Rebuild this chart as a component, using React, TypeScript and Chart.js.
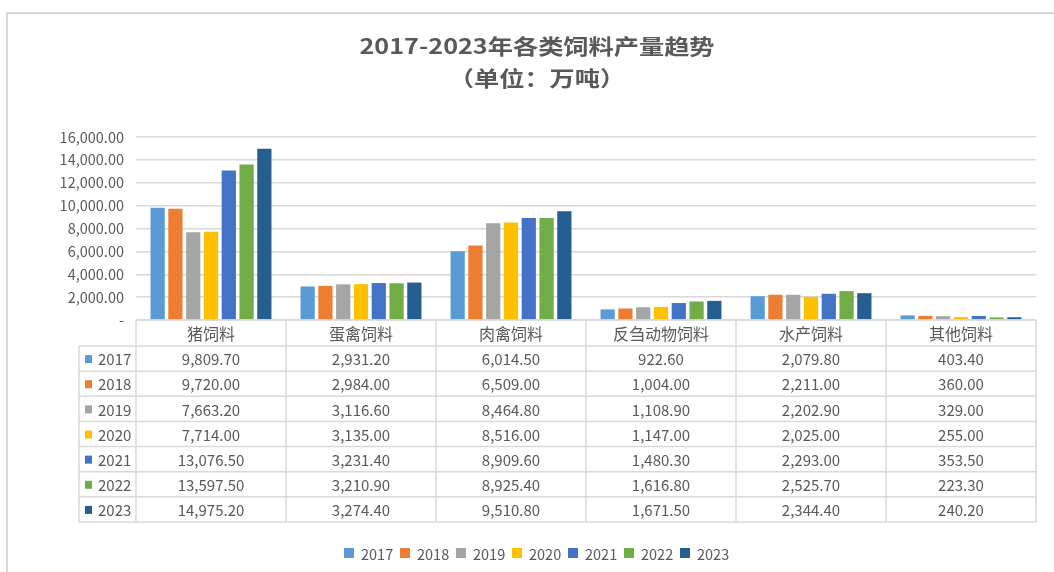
import React, { useEffect, useRef } from "react";
import { Chart, registerables } from "chart.js";

Chart.register(...registerables);

const categories = ["猪饲料", "蛋禽饲料", "肉禽饲料", "反刍动物饲料", "水产饲料", "其他饲料"];
const years = ["2017", "2018", "2019", "2020", "2021", "2022", "2023"];
const v2017 = [9809.7, 2931.2, 6014.5, 922.6, 2079.8, 403.4];
const v2018 = [9720.0, 2984.0, 6509.0, 1004.0, 2211.0, 360.0];
const v2019 = [7663.2, 3116.6, 8464.8, 1108.9, 2202.9, 329.0];
const v2020 = [7714.0, 3135.0, 8516.0, 1147.0, 2025.0, 255.0];
const v2021 = [13076.5, 3231.4, 8909.6, 1480.3, 2293.0, 353.5];
const v2022 = [13597.5, 3210.9, 8925.4, 1616.8, 2525.7, 223.3];
const v2023 = [14975.2, 3274.4, 9510.8, 1671.5, 2344.4, 240.2];
const seriesValues = [v2017, v2018, v2019, v2020, v2021, v2022, v2023];
const colors = ["#5B9BD5", "#ED7D31", "#A5A5A5", "#FFC000", "#4472C4", "#70AD47", "#255E91"];
const yMin = 0;
const yMax = 16000;
const yStep = 2000;
const titleLines = ["2017-2023年各类饲料产量趋势", "（单位：万吨）"];

const FONT = '"Noto Sans CJK SC", "Noto Sans", sans-serif';
const TEXT = "#595959";
const LINE = "#d9d9d9";

const fmt = (v: number) =>
  v.toLocaleString("en-US", { minimumFractionDigits: 2, maximumFractionDigits: 2 });

const W = 1054;
const H = 572;

const decorPlugin = {
  id: "decor",
  beforeDraw(chart: any) {
    const ctx = chart.ctx;
    ctx.save();
    ctx.fillStyle = "#ffffff";
    ctx.fillRect(0, 0, W, H);
    ctx.strokeStyle = LINE;
    ctx.lineWidth = 2;
    ctx.beginPath();
    ctx.moveTo(7, H);
    ctx.lineTo(7, 13);
    ctx.lineTo(W, 13);
    ctx.stroke();
    ctx.restore();
  },
  afterDraw(chart: any) {
    const ctx = chart.ctx;
    const area = chart.chartArea;
    ctx.save();

    // Title
    ctx.fillStyle = TEXT;
    ctx.textAlign = "center";
    ctx.textBaseline = "middle";
    ctx.font = `bold 21px ${FONT}`;
    const tcx = 537;
    const tys = [46, 78];
    titleLines.forEach((t, i) => {
      ctx.save();
      ctx.translate(tcx, tys[i]);
      ctx.scale(1.2, 1);
      ctx.fillText(t, 0, 0);
      ctx.restore();
    });

    // Data table
    const n = categories.length;
    const colW = (area.right - area.left) / n;
    const tableTop = area.bottom;
    const headerBottom = 346;
    const tableBottom = 522;
    const leftX = 79;
    const rowH = (tableBottom - headerBottom) / years.length;

    ctx.strokeStyle = LINE;
    ctx.lineWidth = 1.5;
    ctx.beginPath();
    ctx.moveTo(area.left, tableTop);
    ctx.lineTo(area.right, tableTop);
    for (let r = 0; r <= years.length; r++) {
      const y = headerBottom + r * rowH;
      ctx.moveTo(leftX, y);
      ctx.lineTo(area.right, y);
    }
    ctx.moveTo(leftX, headerBottom);
    ctx.lineTo(leftX, tableBottom);
    for (let c = 0; c <= n; c++) {
      const x = area.left + c * colW;
      ctx.moveTo(x, tableTop);
      ctx.lineTo(x, tableBottom);
    }
    ctx.stroke();

    ctx.fillStyle = TEXT;
    ctx.textAlign = "center";
    ctx.textBaseline = "middle";
    ctx.font = `16px ${FONT}`;
    const xScale = chart.scales.x;
    categories.forEach((c, i) => {
      const cx = xScale.getPixelForValue(i);
      ctx.fillText(c, cx, (tableTop + headerBottom) / 2 + 1);
    });

    ctx.font = `15px ${FONT}`;
    seriesValues.forEach((vals, r) => {
      const cy = headerBottom + r * rowH + rowH / 2 + 1;
      vals.forEach((v, i) => {
        const cx = xScale.getPixelForValue(i);
        ctx.fillStyle = TEXT;
        ctx.fillText(fmt(v), cx, cy);
      });
      ctx.fillStyle = colors[r];
      ctx.fillRect(85, cy - 4.5, 7, 8);
      ctx.fillStyle = TEXT;
      ctx.textAlign = "left";
      ctx.fillText(years[r], 98, cy);
      ctx.textAlign = "center";
    });

    // Legend
    ctx.font = `14.5px ${FONT}`;
    ctx.textAlign = "left";
    const ly = 553;
    years.forEach((yname, i) => {
      const x = 344 + i * 56;
      ctx.fillStyle = colors[i];
      ctx.fillRect(x, ly - 5, 10, 10);
      ctx.fillStyle = TEXT;
      ctx.fillText(yname, x + 17, ly + 1);
    });

    ctx.restore();
  },
};

export default function App() {
  const ref = useRef<HTMLCanvasElement | null>(null);

  useEffect(() => {
    if (!ref.current) return;
    const chart = new Chart(ref.current, {
      type: "bar",
      data: {
        labels: categories,
        datasets: years.map((y, i) => ({
          label: y,
          data: seriesValues[i],
          backgroundColor: colors[i],
          categoryPercentage: 0.83,
          barPercentage: 0.8,
        })),
      },
      options: {
        responsive: false,
        animation: false,
        devicePixelRatio: 1,
        layout: { padding: { top: 137, bottom: H - 320, left: 0, right: 18 } },
        plugins: {
          legend: { display: false },
          title: { display: false },
          tooltip: { enabled: false },
        },
        scales: {
          x: { display: false, grid: { display: false } },
          y: {
            min: yMin,
            max: yMax,
            afterFit: (s: any) => {
              s.width = 136;
            },
            ticks: {
              stepSize: yStep,
              padding: 12,
              color: TEXT,
              font: { family: FONT, size: 14.5 },
              callback: (v: any) => (Number(v) === 0 ? "-" : fmt(Number(v))),
            },
            grid: { color: LINE, lineWidth: 1.5, drawTicks: false },
            border: { display: false },
          },
        },
      },
      plugins: [decorPlugin],
    });
    return () => chart.destroy();
  }, []);

  return (
    <div style={{ position: "absolute", left: 0, top: 0, width: W, height: H, overflow: "hidden" }}>
      <canvas ref={ref} width={W} height={H} style={{ display: "block", width: W, height: H }} />
    </div>
  );
}
